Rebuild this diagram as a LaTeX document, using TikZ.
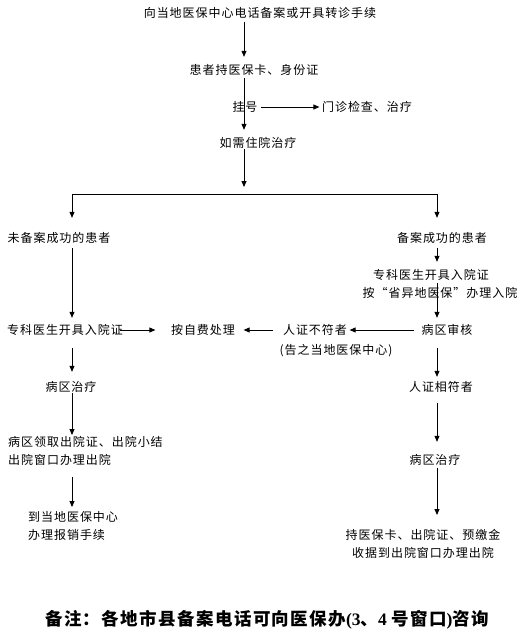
\documentclass[tikz,border=0pt]{standalone}
\usepackage{fontspec}
\newfontfamily\cjk[LetterSpace=8.0]{Noto Sans CJK SC}
\newfontfamily\latn{Liberation Serif}
\usetikzlibrary{arrows.meta}
\tikzset{
  txt/.style={font=\cjk\fontsize{12}{18}\selectfont, inner sep=0pt, text height=10pt, text depth=2pt},
  multi/.style={font=\cjk\fontsize{12}{18}\selectfont, inner sep=0pt},
  arr/.style={-{Triangle[length=6pt,width=5pt]}, line width=0.8pt},
  ln/.style={line width=0.8pt},
}
\begin{document}
\begin{tikzpicture}[x=1pt,y=-1pt]
  \useasboundingbox (0,0) rectangle (525,638);

  % Columns
  \coordinate (c) at (244,0);
  \coordinate (L) at (72,0);
  \coordinate (R) at (437,0);
  \coordinate (split) at (244,194);

  % Top part
  \node[txt] (start) at (260,13) {向当地医保中心电话备案或开具转诊手续};
  \node[txt] (card) at (254,70) {患者持医保卡、身份证};
  \node[txt] (regist) at (245,107) {挂号};
  \node[txt] (clinic) at (367,107) {门诊检查、治疗};
  \node[txt] (need) at (258,143) {如需住院治疗};

  % Left branch
  \node[txt] (unfiled) at (59,238) {未备案成功的患者};
  \node[txt] (lspec) at (65,330) {专科医生开具入院证};
  \node[txt] (self) at (203,330) {按自费处理};
  \node[txt] (lward) at (71,387) {病区治疗};
  \node[multi, align=left, anchor=north west] (ldis) at (8,436) {病区领取出院证、出院小结\\出院窗口办理出院};
  \node[multi, align=left, anchor=north west] (lrem) at (28,511) {到当地医保中心\\办理报销手续};

  % Right branch
  \node[txt] (filed) at (442,238) {备案成功的患者};
  \node[txt] (rspecA) at (431,275) {专科医生开具入院证};
  \node[txt] (rspecB) at (440,293) {按“省异地医保”办理入院};
  \node[txt] (audit) at (447,330) {病区审核};
  \node[txt] (nomatch) at (315,330) {人证不符者};
  \node[txt] (tell) at (336,350) {(告之当地医保中心)};
  \node[txt] (match) at (441,387) {人证相符者};
  \node[txt] (rward) at (435,460) {病区治疗};
  \node[multi, align=center, anchor=north] (rend) at (423,529) {持医保卡、出院证、预缴金\\收据到出院窗口办理出院};

  % Remark
  \node[font=\cjk\bfseries\fontsize{17.5}{20}\selectfont, inner sep=0pt] (note) at (267,620)
    {备注：各地市县备案电话可向医保办{\latn\bfseries (3}、{\latn\bfseries 4 }号窗口{\latn\bfseries )}咨询};

  % Top arrows
  \draw[arr, shorten <=3pt, shorten >=7pt] (start.south -| c) -- (card.north -| c);
  \draw[arr, shorten <=2pt, shorten >=7pt] (card.south -| c) -- (need.north -| c);
  \draw[arr, shorten <=3.5pt, shorten >=2.5pt] (regist.east) -- (clinic.west);
  \draw[arr, shorten >=7pt] (need.south -| c) -- (split);
  \draw[ln] (split -| L) -- (split -| R);
  \draw[arr, shorten >=14pt] (split -| L) -- (unfiled.north -| L);
  \draw[arr, shorten >=14pt] (split -| R) -- (filed.north -| R);

  % Left arrows
  \draw[arr, shorten <=4pt, shorten >=6pt] (unfiled.south -| L) -- (lspec.north -| L);
  \draw[arr, shorten <=-3pt, shorten >=15.5pt] (lspec.east) -- (self.west);
  \draw[arr, shorten <=12pt, shorten >=9pt] (lspec.south -| L) -- (lward.north -| L);
  \draw[arr, shorten >=1pt] (lward.south -| L) -- (ldis.north -| L);
  \draw[arr, shorten <=11pt, shorten >=4pt] (ldis.south -| L) -- (lrem.north -| L);

  % Right arrows
  \draw[arr, shorten <=4pt, shorten >=7pt] (filed.south -| R) -- (rspecA.north -| R);
  \draw[arr, shorten <=2pt, shorten >=6pt] (rspecA.south -| R) -- (audit.north -| R);
  \draw[arr, shorten <=7.5pt, shorten >=2.5pt] (audit.west) -- (nomatch.east);
  \draw[arr, shorten <=9.5pt, shorten >=8.5pt] (nomatch.west) -- (self.east);
  \draw[arr, shorten <=12pt, shorten >=4pt] (audit.south -| R) -- (match.north -| R);
  \draw[arr, shorten <=10pt, shorten >=12pt] (match.south -| R) -- (rward.north -| R);
  \draw[arr, shorten <=2pt, shorten >=14pt] (rward.south -| R) -- (rend.north -| R);
\end{tikzpicture}
\end{document}
